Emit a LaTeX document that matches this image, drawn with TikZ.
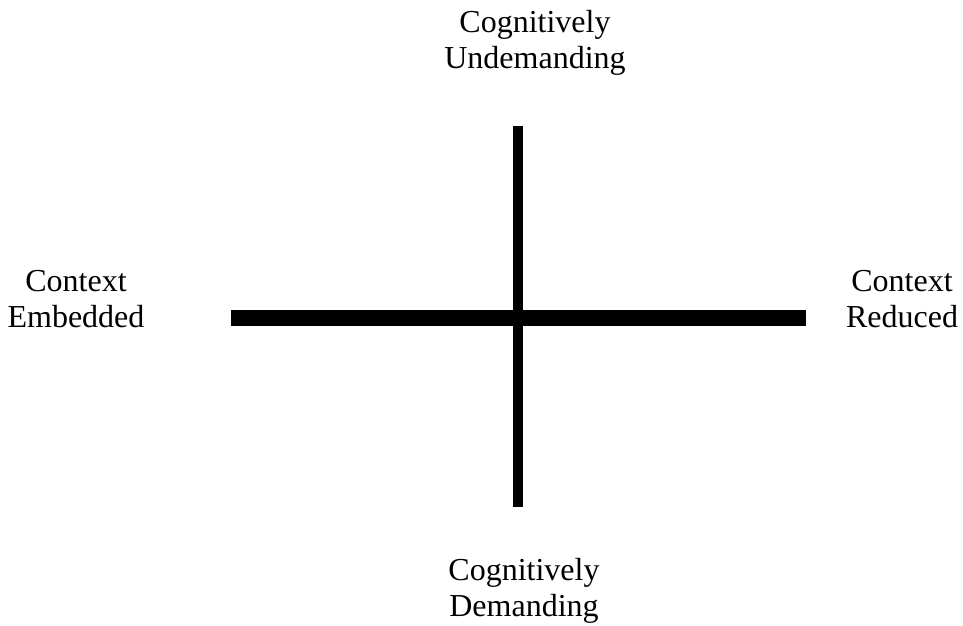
\documentclass[tikz,border=0pt]{standalone}
\usepackage{fontspec}
\setmainfont{Liberation Serif}
\begin{document}
\begin{tikzpicture}[x=1pt,y=-1pt,
  lbl/.style={align=center,inner sep=0pt,font=\fontsize{32}{36}\selectfont},
  axisv/.style={line width=10pt,line cap=butt},
  axish/.style={line width=16pt,line cap=butt}]
\useasboundingbox (0,0) rectangle (963,625);
\coordinate (vt) at (518,125.7);
\coordinate (vb) at (518,507);
\coordinate (hl) at (231,318);
\coordinate (hr) at (806,318);
\draw[axisv] (vt) -- (vb);
\draw[axish] (hl) -- (hr);
\node[lbl] (top) at (535,42.5) {Cognitively\\Undemanding};
\node[lbl] (bot) at (524,591) {Cognitively\\Demanding};
\node[lbl] (left) at (76,299) {Context\\Embedded};
\node[lbl] (right) at (902,299) {Context\\Reduced};
\end{tikzpicture}
\end{document}
